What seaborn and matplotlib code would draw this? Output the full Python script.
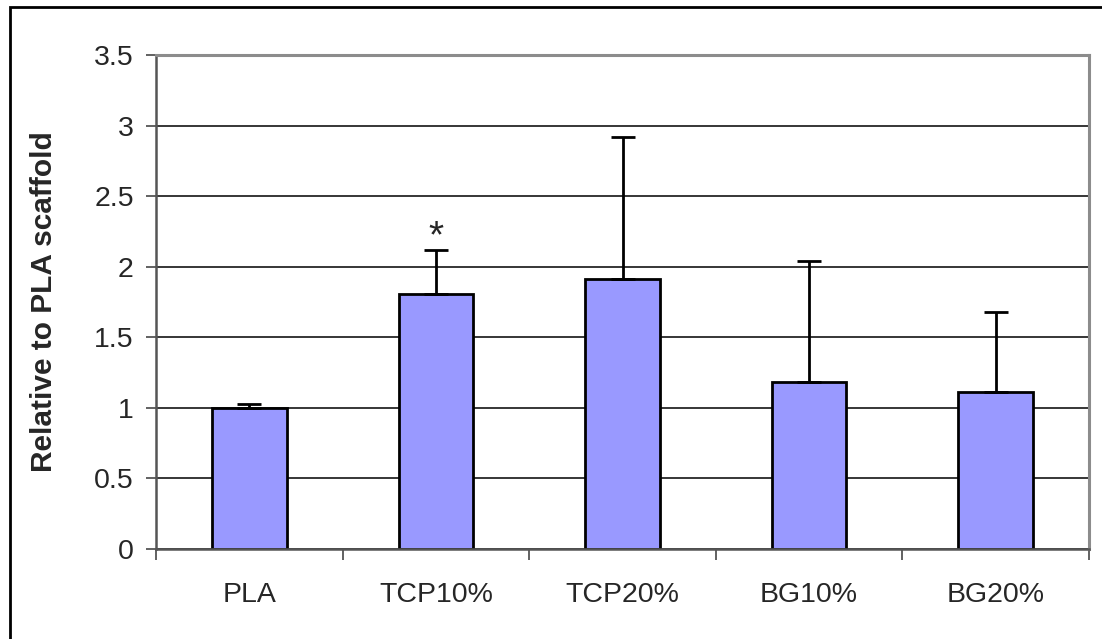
import matplotlib
matplotlib.use("Agg")
import matplotlib.pyplot as plt
import seaborn as sns
import numpy as np
from matplotlib.patches import Rectangle

categories = ["PLA", "TCP10%", "TCP20%", "BG10%", "BG20%"]
values = [1.0, 1.81, 1.91, 1.18, 1.11]
upper_err = [0.03, 0.31, 1.01, 0.86, 0.57]
y_ticks = [0, 0.5, 1, 1.5, 2, 2.5, 3, 3.5]
y_tick_labels = ["0", "0.5", "1", "1.5", "2", "2.5", "3", "3.5"]
significant = ["TCP10%"]

sns.set_style("white")
plt.rcParams["font.family"] = ["Liberation Sans", "DejaVu Sans"]

fig = plt.figure(figsize=(11.02, 6.39), dpi=100)
ax = fig.add_axes([0.1416, 0.1408, 0.9882 - 0.1416, 0.9139 - 0.1408])

# horizontal gridlines behind bars
ax.set_axisbelow(True)
ax.yaxis.grid(True, color="black", linewidth=1.1)
ax.xaxis.grid(False)

sns.barplot(x=categories, y=values, color="#9999FF", saturation=1,
            width=0.4, edgecolor="black", linewidth=2, ax=ax, zorder=2)

pos = np.arange(len(categories))
ax.errorbar(pos, values, yerr=[np.zeros(len(values)), upper_err],
            fmt="none", ecolor="black", elinewidth=2, capsize=8.5,
            capthick=2, zorder=3)

# significance marker just above the error bar cap
for i, c in enumerate(categories):
    if c in significant:
        ax.text(i, values[i] + upper_err[i] + 0.02, "*", ha="center",
                va="baseline", fontsize=28)

ax.set_xlim(-0.5, len(categories) - 0.5)
ax.set_ylim(0, 3.5)
ax.set_yticks(y_ticks)
ax.set_yticklabels(y_tick_labels)

# category labels centred, tick marks between categories
ax.set_xticks(pos)
ax.set_xticklabels(categories)
ax.set_xticks(np.arange(-0.5, len(categories), 1.0), minor=True)
ax.tick_params(axis="x", which="major", length=0, labelsize=20.5, pad=24)
ax.tick_params(axis="x", which="minor", length=8, width=1.3,
               color="#555555", direction="out", bottom=True)
ax.tick_params(axis="y", which="major", length=7, width=1.3,
               color="#555555", direction="out", left=True,
               labelsize=20.5, pad=9)

ax.set_xlabel("")
ax.set_ylabel("Relative to PLA scaffold", fontsize=21.5, fontweight="bold",
              labelpad=26)

for side in ["left", "bottom"]:
    ax.spines[side].set_color("#555555")
    ax.spines[side].set_linewidth(1.8)
for side in ["top", "right"]:
    ax.spines[side].set_visible(True)
    ax.spines[side].set_color("#8c8c8c")
    ax.spines[side].set_linewidth(2.2)

# outer chart frame
fig.patches.append(Rectangle((10 / 1102, -0.1), 1.2, 1 - 7 / 639 + 0.1,
                             transform=fig.transFigure, fill=False,
                             edgecolor="black", linewidth=2, zorder=10))

fig.savefig("out.png", dpi=100, facecolor="white")
